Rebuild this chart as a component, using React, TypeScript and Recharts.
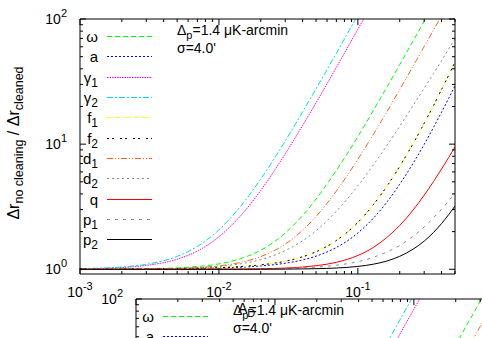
import React from 'react';
import { LineChart, Line, XAxis, YAxis } from 'recharts';

// ---- data ----
const xValues = [0.001, 0.002, 0.003, 0.005, 0.007, 0.01, 0.015, 0.02, 0.03, 0.04, 0.05, 0.07, 0.1, 0.13, 0.16, 0.2, 0.25, 0.3, 0.35, 0.4, 0.45, 0.5];
const omegaVals = [1.001, 1.004, 1.009, 1.026, 1.052, 1.105, 1.237, 1.42, 1.95, 2.69, 3.64, 6.17, 11.5, 18.8, 28, 43.2, 66.9, 95.9, 130, null, null, null];
const aVals = [1.003, 1.004, 1.006, 1.011, 1.016, 1.025, 1.042, 1.064, 1.118, 1.188, 1.273, 1.494, 1.95, 2.58, 3.39, 4.78, 7.04, 9.95, 13.6, 18.0, 23.2, 29.3];
const gamma1Vals = [1.008, 1.033, 1.074, 1.204, 1.40, 1.82, 2.84, 4.27, 8.36, 14.1, 21.4, 41.1, 82.8, 139, null, null, null, null, null, null, null, null];
const gamma2Vals = [1.011, 1.043, 1.096, 1.267, 1.523, 2.067, 3.40, 5.27, 10.6, 18.1, 27.7, 53.3, 107.7, 181, null, null, null, null, null, null, null, null];
const f1Vals = [1.003, 1.005, 1.008, 1.013, 1.020, 1.032, 1.055, 1.085, 1.16, 1.26, 1.38, 1.70, 2.37, 3.31, 4.53, 6.65, 10.1, 14.7, 20.3, 27.3, 35.5, 45.3];
const f2Vals = [1.003, 1.005, 1.008, 1.013, 1.020, 1.032, 1.055, 1.085, 1.16, 1.26, 1.38, 1.70, 2.37, 3.31, 4.53, 6.65, 10.1, 14.7, 20.3, 27.3, 35.5, 45.3];
const d1Vals = [1.001, 1.003, 1.006, 1.016, 1.032, 1.066, 1.148, 1.263, 1.59, 2.05, 2.64, 4.22, 7.57, 12.1, 17.8, 27.3, 42.1, 60.2, 81.5, 106, null, null];
const d2Vals = [1.001, 1.003, 1.006, 1.016, 1.029, 1.055, 1.116, 1.195, 1.41, 1.69, 2.03, 2.91, 4.65, 6.89, 9.59, 13.9, 20.4, 28.0, 36.7, 46.5, 57.5, 69.4];
const qVals = [1.0, 1.0, 1.0, 1.001, 1.001, 1.002, 1.005, 1.01, 1.023, 1.042, 1.068, 1.137, 1.29, 1.50, 1.78, 2.24, 2.98, 3.91, 5.02, 6.32, 7.81, 9.5];
const p1Vals = [1.0, 1.0, 1.0, 1.0, 1.001, 1.002, 1.004, 1.007, 1.016, 1.027, 1.041, 1.078, 1.15, 1.25, 1.37, 1.55, 1.84, 2.18, 2.58, 3.02, 3.52, 4.07];
const p2Vals = [1.0, 1.0, 1.0, 1.0, 1.0, 1.0, 1.0, 1.001, 1.003, 1.007, 1.011, 1.024, 1.054, 1.10, 1.16, 1.27, 1.45, 1.68, 1.97, 2.32, 2.73, 3.2];

const xTicks = [0.001, 0.002, 0.003, 0.004, 0.005, 0.006, 0.007, 0.008, 0.009, 0.01, 0.02, 0.03, 0.04, 0.05, 0.06, 0.07, 0.08, 0.09, 0.1, 0.2, 0.3, 0.4, 0.5];
const yTicks = [1, 2, 3, 4, 5, 6, 7, 8, 9, 10, 20, 30, 40, 50, 60, 70, 80, 90, 100];

const series = [
  { key: 'omega', main: 'ω', sub: '', vals: omegaVals, color: '#00ff00', dash: '5 3' },
  { key: 'a', main: 'a', sub: '', vals: aVals, color: '#0000ff', dash: '2 2' },
  { key: 'g1', main: 'γ', sub: '1', vals: gamma1Vals, color: '#ff00ff', dash: '1.5 1' },
  { key: 'g2', main: 'γ', sub: '2', vals: gamma2Vals, color: '#00e0e0', dash: '6 2 2 2' },
  { key: 'f1', main: 'f', sub: '1', vals: f1Vals, color: '#ffff00', dash: '4 2 1 2' },
  { key: 'f2', main: 'f', sub: '2', vals: f2Vals, color: '#000000', dash: '2 3 2 6' },
  { key: 'd1', main: 'd', sub: '1', vals: d1Vals, color: '#ff6020', dash: '6 2 1 2 1 2' },
  { key: 'd2', main: 'd', sub: '2', vals: d2Vals, color: '#888888', dash: '2 3' },
  { key: 'q', main: 'q', sub: '', vals: qVals, color: '#ff0000', dash: undefined },
  { key: 'p1', main: 'p', sub: '1', vals: p1Vals, color: '#888888', dash: '3 5' },
  { key: 'p2', main: 'p', sub: '2', vals: p2Vals, color: '#000000', dash: undefined },
];

const data = xValues.map((x, i) => {
  const row: any = { x };
  series.forEach((s) => { row[s.key] = s.vals[i]; });
  return row;
});

const W = 482;
const H = 338;
const FONT = '"Liberation Sans", Arial, sans-serif';
const X_DOMAIN = [0.001, 0.5];
const Y_DOMAIN = [0.917, 100];

const isMajor = (v: number) => Math.abs(Math.log10(v) - Math.round(Math.log10(v))) < 1e-6;
const expOf = (v: number) => String(Math.round(Math.log10(v)));

const BottomTick = (props: any) => {
  const { x, y, payload } = props;
  const v = payload.value;
  const major = isMajor(v);
  const len = major ? 6 : 3;
  return (
    <g>
      <line x1={x} y1={y} x2={x} y2={y - len} stroke="#000" strokeWidth={1} />
      {major && (
        <text x={x} y={y + 23} textAnchor="middle" fontSize={14} fontFamily={FONT} fill="#000">
          10<tspan dy={-7} fontSize={11}>{expOf(v)}</tspan>
        </text>
      )}
    </g>
  );
};

const TopTick = (props: any) => {
  const { x, y, payload } = props;
  const len = isMajor(payload.value) ? 6 : 3;
  return <line x1={x} y1={y} x2={x} y2={y + len} stroke="#000" strokeWidth={1} />;
};

const LeftTick = (props: any) => {
  const { x, y, payload } = props;
  const v = payload.value;
  const major = isMajor(v);
  const len = major ? 6 : 3;
  return (
    <g>
      <line x1={x} y1={y} x2={x + len} y2={y} stroke="#000" strokeWidth={1} />
      {major && (
        <text x={x - 13} y={y + 5} textAnchor="end" fontSize={14} fontFamily={FONT} fill="#000">
          10<tspan dy={-7} fontSize={11}>{expOf(v)}</tspan>
        </text>
      )}
    </g>
  );
};

const RightTick = (props: any) => {
  const { x, y, payload } = props;
  const len = isMajor(payload.value) ? 6 : 3;
  return <line x1={x} y1={y} x2={x - len} y2={y} stroke="#000" strokeWidth={1} />;
};

const Panel = ({ showYLabel }: { showYLabel: boolean }) => {
  const legendTop = 36;
  const legendStep = 20.33;
  return (
    <div style={{ position: 'relative', width: W, height: H }}>
      <div style={{ position: 'absolute', left: 0, top: 0 }}>
        <LineChart width={W} height={H} data={data} margin={{ top: 18, right: 26, bottom: 63, left: 79 }}>
          <XAxis xAxisId="b" dataKey="x" type="number" scale="log" domain={X_DOMAIN} allowDataOverflow
            ticks={xTicks} interval={0} height={1} tickSize={0} tickMargin={0} tick={<BottomTick />}
            axisLine={{ stroke: '#000', strokeWidth: 1 }} tickLine={false} />
          <XAxis xAxisId="t" orientation="top" dataKey="x" type="number" scale="log" domain={X_DOMAIN} allowDataOverflow
            ticks={xTicks} interval={0} height={1} tickSize={0} tickMargin={0} tick={<TopTick />}
            axisLine={{ stroke: '#000', strokeWidth: 1 }} tickLine={false} />
          <YAxis yAxisId="l" type="number" scale="log" domain={Y_DOMAIN} allowDataOverflow
            ticks={yTicks} interval={0} width={1} tickSize={0} tickMargin={0} tick={<LeftTick />}
            axisLine={{ stroke: '#000', strokeWidth: 1 }} tickLine={false} />
          <YAxis yAxisId="r" orientation="right" type="number" scale="log" domain={Y_DOMAIN} allowDataOverflow
            ticks={yTicks} interval={0} width={1} tickSize={0} tickMargin={0} tick={<RightTick />}
            axisLine={{ stroke: '#000', strokeWidth: 1 }} tickLine={false} />
          {series.map((s) => (
            <Line key={s.key} xAxisId="b" yAxisId="l" dataKey={s.key} type="monotone" stroke={s.color}
              strokeWidth={1} strokeDasharray={s.dash} dot={false} activeDot={false}
              isAnimationActive={false} connectNulls={false} />
          ))}
        </LineChart>
      </div>
      <svg width={W} height={H} style={{ position: 'absolute', left: 0, top: 0, pointerEvents: 'none' }}>
        {series.map((s, i) => {
          const y = Math.round(legendTop + i * legendStep) + 0.5;
          return (
            <g key={s.key}>
              <text x={98} y={y + 5} textAnchor="end" fontSize={15} fontFamily={FONT} fill="#000">
                {s.main}
                {s.sub && <tspan dy={4} fontSize={12}>{s.sub}</tspan>}
              </text>
              <line x1={107} y1={y} x2={152} y2={y} stroke={s.color} strokeWidth={1.2} strokeDasharray={s.dash} />
            </g>
          );
        })}
        <text x={177} y={35} fontSize={14} fontFamily={FONT} fill="#000">
          Δ<tspan dy={4} fontSize={11}>p</tspan><tspan dy={-4}>=1.4 μK-arcmin</tspan>
        </text>
        <text x={177} y={53} fontSize={14} fontFamily={FONT} fill="#000">σ=4.0'</text>
        <text x={238} y={313} fontSize={14} fontFamily={FONT} fill="#000">
          A<tspan dy={4} fontSize={11}>D</tspan>
        </text>
        {showYLabel && (
          <text transform="translate(19,143) rotate(-90)" textAnchor="middle" fontSize={16} fontFamily={FONT} fill="#000">
            Δr<tspan dy={4} fontSize={12.5}>no cleaning</tspan><tspan dy={-4}> / Δr</tspan><tspan dy={4} fontSize={12.5}>cleaned</tspan>
          </text>
        )}
      </svg>
    </div>
  );
};

export default function App() {
  return (
    <div style={{ position: 'fixed', left: 0, top: 0, width: W, height: H, overflow: 'hidden', background: '#fff' }}>
      <div style={{ position: 'absolute', left: 0, top: 0 }}>
        <Panel showYLabel={true} />
      </div>
      <div style={{ position: 'absolute', left: 56, top: 280 }}>
        <Panel showYLabel={false} />
      </div>
    </div>
  );
}
